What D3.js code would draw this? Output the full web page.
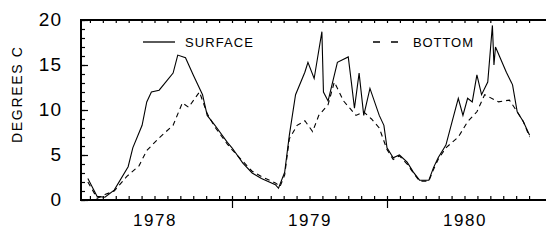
<!DOCTYPE html>
<html>
<head>
<meta charset="utf-8">
<script src="https://cdn.jsdelivr.net/npm/d3@7"></script>
<style>
  body { margin: 0; background: #fff; }
  svg { display: block; }
  .tick text { font-family: "Liberation Sans", Arial, sans-serif; fill: #000; }
</style>
</head>
<body>
<script>
// data (decimal years, degrees C)
let surfaceDates = [1978.07,1978.13,1978.18,1978.24,1978.33,1978.36,1978.42,1978.45,1978.48,1978.53,1978.62,1978.65,1978.70,1978.75,1978.81,1978.84,1978.89,1978.97,1979.00,1979.07,1979.13,1979.19,1979.28,1979.30,1979.34,
  1979.37,1979.41,1979.47,1979.49,1979.53,1979.58,1979.59,1979.62,1979.68,1979.75,1979.77,1979.79,1979.82,1979.85,1979.89,1979.95,1979.98,1980.00,1980.04,1980.08,1980.13,1980.17,1980.21,1980.27,1980.30,1980.33,1980.38,
  1980.42,1980.46,1980.49,1980.52,1980.55,1980.58,1980.61,1980.65,1980.68,1980.69,1980.70,1980.77,1980.81,1980.84,1980.88,1980.92]
let surfaceTemps = [2.4,0.4,0.3,1.1,3.7,5.8,8.3,10.9,12.0,12.2,14.1,16.1,15.8,13.9,11.7,9.4,8.3,6.4,5.8,4.1,3.0,2.4,1.7,1.3,3.1,
  7.2,11.7,14.2,15.3,13.5,18.7,12.0,11.0,15.3,15.9,13.1,10.2,14.1,9.4,12.4,9.4,8.3,5.8,4.7,5.0,4.2,3.1,2.2,2.2,3.6,4.7,6.1,
  8.7,11.3,9.4,11.3,10.9,13.9,11.7,13.1,19.4,15.0,17.0,14.2,12.8,9.8,8.7,7.2]

let bottomDates = [1978.07,1978.13,1978.18,1978.24,1978.32,1978.40,1978.45,1978.53,1978.62,1978.68,1978.72,1978.79,1978.84,1978.89,1978.97,1979.00,1979.07,1979.13,1979.19,1979.28,1979.31,1979.34,
  1979.37,1979.42,1979.47,1979.52,1979.56,1979.62,1979.66,1979.72,1979.76,1979.80,1979.85,1979.90,1979.95,1980.00,1980.04,1980.08,1980.13,1980.17,1980.21,1980.27,1980.30,1980.33,1980.38,
  1980.42,1980.46,1980.52,1980.58,1980.63,1980.72,1980.79,1980.84,1980.88,1980.92]
let bottomTemps = [2.0,0.2,0.6,1.0,2.6,3.8,5.5,6.9,8.3,10.8,10.3,12.0,9.6,8.1,6.2,5.6,4.3,3.2,2.6,1.9,1.5,2.8,
  6.8,8.3,8.8,7.6,9.4,10.6,13.1,11.0,10.2,9.4,9.8,9.0,8.0,5.6,4.5,4.9,4.0,3.0,2.1,2.1,3.4,4.5,5.8,
  6.4,7.0,8.7,9.8,11.7,10.9,11.1,9.8,8.7,7.0]

let yearTicks = [1979, 1980]
let yearLabels = ["1978", "1979", "1980"]
let yTicks = [0, 5, 10, 15, 20]
let legendNames = ["SURFACE", "BOTTOM"]

let width = 546
let height = 242
let plotLeft = 81, plotRight = 546, plotTop = 20, plotBottom = 200

let x = d3.scaleLinear().domain([1978, 1981]).range([77, 542])
let y = d3.scaleLinear().domain([0, 20]).range([plotBottom, plotTop])

let svg = d3.select("body").append("svg")
    .attr("width", width)
    .attr("height", height)

// minor ticks, monthly along top and bottom, every degree on the left
let months = d3.range(1, 36).map(m => 1978 + m / 12)
svg.append("g")
    .attr("transform", "translate(0," + plotBottom + ")")
    .call(d3.axisTop(x).tickValues(months).tickSize(4).tickFormat(""))
svg.append("g")
    .attr("transform", "translate(0," + plotTop + ")")
    .call(d3.axisBottom(x).tickValues(months).tickSize(3).tickFormat(""))
svg.append("g")
    .attr("transform", "translate(" + plotLeft + ",0)")
    .call(d3.axisRight(y).tickValues(d3.range(0, 21)).tickSize(4).tickFormat(""))
svg.append("g")
    .attr("transform", "translate(" + plotLeft + ",0)")
    .call(d3.axisRight(y).tickValues(yTicks).tickSize(7).tickFormat(""))
// year boundary ticks poke out below
svg.append("g")
    .attr("transform", "translate(0," + plotBottom + ")")
    .call(d3.axisBottom(x).tickValues(yearTicks).tickSize(8).tickFormat(""))
svg.selectAll(".domain").remove()
svg.selectAll(".tick line").attr("stroke", "#000").attr("stroke-width", 1.2)

// labels
svg.append("g")
    .attr("transform", "translate(62,0)")
    .call(d3.axisLeft(y).tickValues(yTicks).tickSize(0).tickPadding(0))
    .call(g => g.select(".domain").remove())
    .selectAll("text")
    .attr("font-size", 19)
    .attr("letter-spacing", 1)
    .attr("dy", "0.3em")

svg.append("g")
    .attr("transform", "translate(0," + plotBottom + ")")
    .call(d3.axisBottom(x).tickValues(yearLabels.map(d => +d + 0.5)).tickSize(0).tickPadding(14)
        .tickFormat((d, i) => yearLabels[i]))
    .call(g => g.select(".domain").remove())
    .selectAll("text")
    .attr("font-size", 17)
    .attr("letter-spacing", 1.5)

svg.append("text")
    .attr("transform", "translate(22,95) rotate(-90)")
    .attr("text-anchor", "middle")
    .attr("font-family", "Liberation Sans, Arial, sans-serif")
    .attr("font-size", 14)
    .attr("textLength", 96)
    .text("DEGREES C")

// frame
svg.append("path")
    .attr("d", "M" + plotRight + "," + plotTop + "H" + plotLeft + "V" + plotBottom + "H" + plotRight)
    .attr("fill", "none")
    .attr("stroke", "#000")
    .attr("stroke-width", 2)

// series
let line = d3.line()
    .x(d => x(d[0]))
    .y(d => y(d[1]))

svg.append("path")
    .datum(d3.zip(surfaceDates, surfaceTemps))
    .attr("d", line)
    .attr("fill", "none")
    .attr("stroke", "#000")
    .attr("stroke-width", 1.1)

svg.append("path")
    .datum(d3.zip(bottomDates, bottomTemps))
    .attr("d", line)
    .attr("fill", "none")
    .attr("stroke", "#000")
    .attr("stroke-width", 1.1)
    .style("stroke-dasharray", "5, 4")

// legend
let legendX = [143, 373]
let lg = svg.selectAll("g.legend")
    .data(legendNames)
    .enter()
    .append("g")
    .attr("class", "legend")
    .attr("transform", (d, i) => "translate(" + legendX[i] + ",42)")
lg.append("line")
    .attr("x1", 0).attr("x2", (d, i) => i == 0 ? 32 : 25)
    .attr("stroke", "#000")
    .attr("stroke-width", 1.3)
    .style("stroke-dasharray", (d, i) => i == 0 ? null : "7, 11")
lg.append("text")
    .attr("x", (d, i) => i == 0 ? 42 : 40)
    .attr("y", 5)
    .attr("font-family", "Liberation Sans, Arial, sans-serif")
    .attr("font-size", 13)
    .attr("textLength", (d, i) => i == 0 ? 68 : 60)
    .text(d => d)
</script>
</body>
</html>
